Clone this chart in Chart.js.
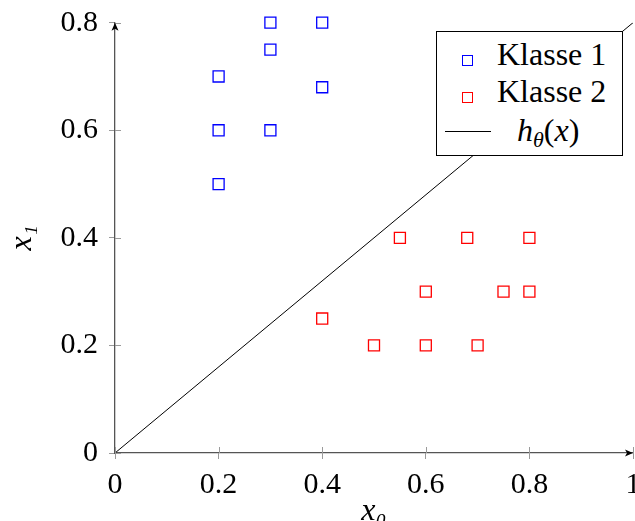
<!DOCTYPE html>
<html>
<head>
<meta charset="utf-8">
<script src="https://cdn.jsdelivr.net/npm/chart.js@4"></script>
<style>
  html, body { margin: 0; padding: 0; background: #fff; }
  #wrap { position: relative; width: 635px; height: 521px; overflow: hidden; }
  #legend {
    position: absolute; left: 436px; top: 31px; width: 187px; height: 125px;
    box-sizing: border-box; border: 1.3px solid #000; background: #fff;
    font-family: 'Liberation Serif', 'Times New Roman', serif; font-size: 32px; color: #000;
  }
  #legend .mark { position: absolute; width: 11px; height: 11px; box-sizing: border-box; border: 1.3px solid; }
  #legend .sample { position: absolute; height: 0; border-top: 1.2px solid #000; }
  #legend .txt { position: absolute; line-height: 36px; white-space: nowrap; }
  #legend sub { font-size: 22px; vertical-align: -6px; line-height: 0; }
</style>
</head>
<body>
<div id="wrap">
  <canvas id="chart" width="635" height="521"></canvas>
  <div id="legend"></div>
</div>
<script>
// values
const xTicks = [0, 0.2, 0.4, 0.6, 0.8, 1];
const yTicks = [0, 0.2, 0.4, 0.6, 0.8];

const class1X = [0.2, 0.2, 0.2, 0.3, 0.3, 0.3, 0.4, 0.4];
const class1Y = [0.5, 0.6, 0.7, 0.6, 0.75, 0.8, 0.8, 0.68];

const class2X = [0.4, 0.5, 0.55, 0.6, 0.6, 0.68, 0.7, 0.75, 0.8, 0.8];
const class2Y = [0.25, 0.2, 0.4, 0.3, 0.2, 0.4, 0.2, 0.3, 0.3, 0.4];

const boundaryX = [0, 1];
const boundaryY = [0, 0.8];

const seriesNames = ['Klasse 1', 'Klasse 2', 'hθ(x)'];
const seriesColors = ['#0000ff', '#ff0000', '#000000'];

const serif = "'Liberation Serif', 'Times New Roman', serif";

function points(xs, ys) {
    return xs.map((x, i) => ({ x: x, y: ys[i] }));
}

// arrow heads and the inner half of the ticks (pgfplots "axis lines = left")
const axisArrows = {
    id: 'axisArrows',
    afterDraw(chart) {
        const { ctx, chartArea: a, scales } = chart;
        ctx.save();
        ctx.strokeStyle = '#9a9a9a';
        ctx.lineWidth = 1;
        ctx.beginPath();
        scales.x.ticks.forEach(t => {
            const px = Math.round(scales.x.getPixelForValue(t.value)) + 0.5;
            ctx.moveTo(px, a.bottom);
            ctx.lineTo(px, a.bottom - 6);
        });
        scales.y.ticks.forEach(t => {
            const py = Math.round(scales.y.getPixelForValue(t.value)) + 0.5;
            ctx.moveTo(a.left, py);
            ctx.lineTo(a.left + 6, py);
        });
        ctx.stroke();

        ctx.fillStyle = '#000';
        // x axis arrow
        ctx.beginPath();
        ctx.moveTo(a.right, a.bottom);
        ctx.lineTo(a.right - 8, a.bottom - 3.5);
        ctx.lineTo(a.right - 6, a.bottom);
        ctx.lineTo(a.right - 8, a.bottom + 3.5);
        ctx.closePath();
        ctx.fill();
        // y axis arrow
        ctx.beginPath();
        ctx.moveTo(a.left, a.top);
        ctx.lineTo(a.left - 3.5, a.top + 8);
        ctx.lineTo(a.left, a.top + 6);
        ctx.lineTo(a.left + 3.5, a.top + 8);
        ctx.closePath();
        ctx.fill();
        ctx.restore();
    },
};

const ctx = document.getElementById('chart').getContext('2d');

const chart = new Chart(ctx, {
    type: 'scatter',
    data: {
        datasets: [
            {
                label: seriesNames[0],
                data: points(class1X, class1Y),
                borderColor: seriesColors[0],
                backgroundColor: 'rgba(0,0,0,0)',
                pointStyle: 'rect',
                pointRadius: 7.8,
                borderWidth: 1.3,
                clip: false,
            },
            {
                label: seriesNames[1],
                data: points(class2X, class2Y),
                borderColor: seriesColors[1],
                backgroundColor: 'rgba(0,0,0,0)',
                pointStyle: 'rect',
                pointRadius: 7.8,
                borderWidth: 1.3,
                clip: false,
            },
            {
                label: seriesNames[2],
                data: points(boundaryX, boundaryY),
                showLine: true,
                borderColor: seriesColors[2],
                borderWidth: 1,
                pointRadius: 0,
            },
        ],
    },
    options: {
        responsive: false,
        animation: false,
        layout: {
            autoPadding: false,
            padding: { top: 22.7, right: 2, left: 0, bottom: 0 },
        },
        plugins: {
            legend: { display: false },
            tooltip: { enabled: false },
        },
        scales: {
            x: {
                type: 'linear',
                min: 0,
                max: 1,
                afterBuildTicks: (scale) => {
                    scale.ticks = xTicks.map(v => ({ value: v }));
                },
                afterFit: (scale) => {
                    scale.height = 68;
                    scale.paddingLeft = 0;
                    scale.paddingRight = 0;
                },
                grid: {
                    drawOnChartArea: false,
                    tickLength: 6,
                    color: '#9a9a9a',
                },
                border: { color: '#555', width: 1.3 },
                ticks: {
                    color: '#000',
                    padding: 8,
                    font: { family: serif, size: 30 },
                    callback: (v) => String(v),
                },
                title: {
                    display: true,
                    text: 'x₀',
                    color: '#000',
                    padding: { top: 0, bottom: -10 },
                    font: { family: serif, size: 32, style: 'italic' },
                },
            },
            y: {
                type: 'linear',
                min: 0,
                max: 0.8,
                afterBuildTicks: (scale) => {
                    scale.ticks = yTicks.map(v => ({ value: v }));
                },
                afterFit: (scale) => {
                    scale.width = 115;
                    scale.paddingTop = 0;
                    scale.paddingBottom = 0;
                },
                grid: {
                    drawOnChartArea: false,
                    tickLength: 6,
                    color: '#9a9a9a',
                },
                border: { color: '#555', width: 1.3 },
                ticks: {
                    color: '#000',
                    padding: 11,
                    font: { family: serif, size: 30 },
                    callback: (v) => String(v),
                },
                title: {
                    display: true,
                    text: 'x₁',
                    color: '#000',
                    padding: { top: 3, bottom: 0 },
                    font: { family: serif, size: 32, style: 'italic' },
                },
            },
        },
    },
    plugins: [axisArrows],
});

// legend box inside the plot, top right
const legend = document.getElementById('legend');
const rowTops = [4, 41, 80];
chart.data.datasets.forEach((ds, i) => {
    if (ds.showLine) {
        const s = document.createElement('div');
        s.className = 'sample';
        s.style.left = '8px';
        s.style.width = '46px';
        s.style.top = (rowTops[i] + 19) + 'px';
        legend.appendChild(s);
        const t = document.createElement('div');
        t.className = 'txt';
        t.style.left = '80px';
        t.style.top = rowTops[i] + 'px';
        t.innerHTML = '<i>h</i><sub><i>θ</i></sub>(<i>x</i>)';
        legend.appendChild(t);
    } else {
        const m = document.createElement('div');
        m.className = 'mark';
        m.style.borderColor = ds.borderColor;
        m.style.left = '25px';
        m.style.top = (rowTops[i] + 19) + 'px';
        legend.appendChild(m);
        const t = document.createElement('div');
        t.className = 'txt';
        t.style.left = '60px';
        t.style.top = rowTops[i] + 'px';
        t.textContent = ds.label;
        legend.appendChild(t);
    }
});
</script>
</body>
</html>
